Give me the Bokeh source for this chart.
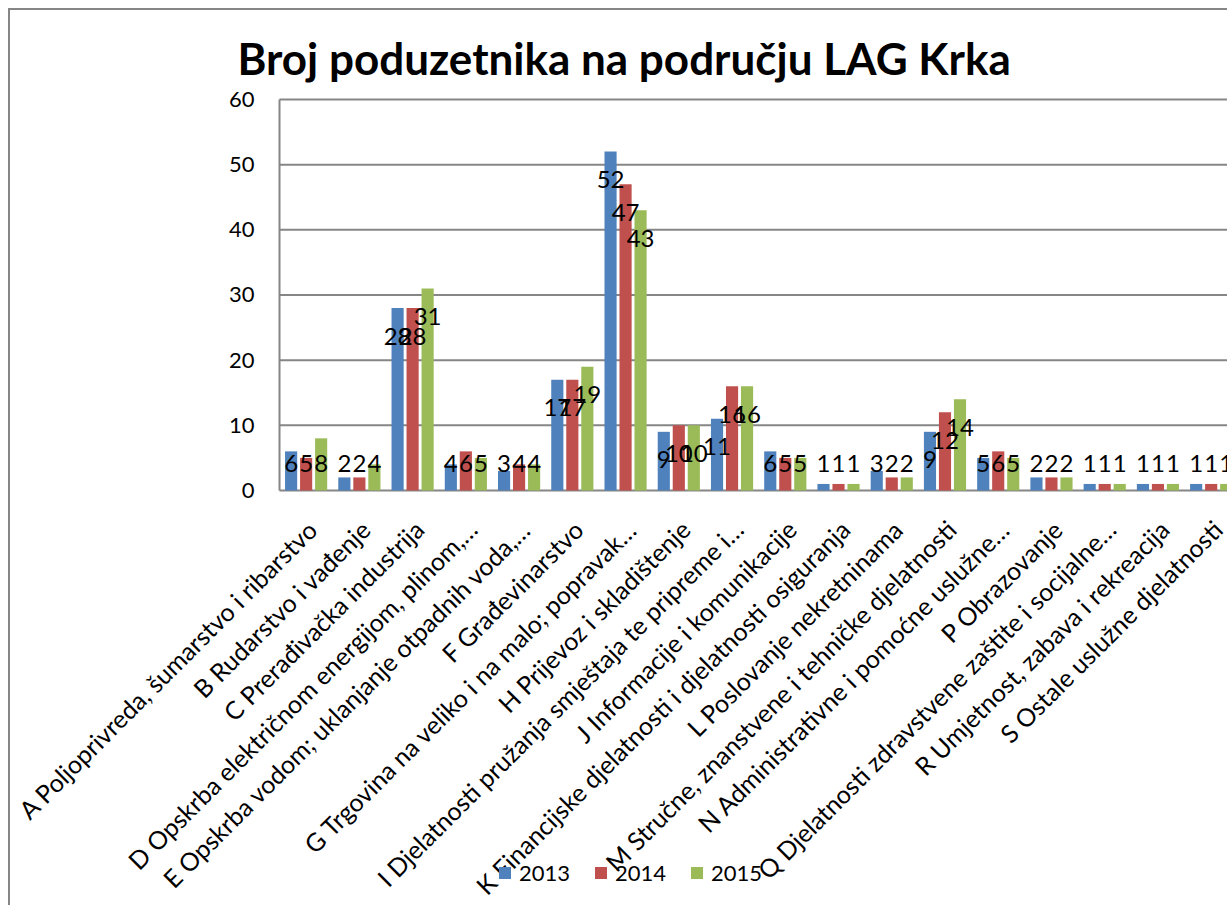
import numpy as np
from bokeh.plotting import figure
from bokeh.models import Range1d, Legend, LegendItem, ColumnDataSource
from bokeh.core.properties import value
from bokeh.embed import file_html
from bokeh.resources import INLINE

categories = [
    "A Poljoprivreda, šumarstvo i ribarstvo",
    "B Rudarstvo i vađenje",
    "C Prerađivačka industrija",
    "D Opskrba električnom energijom, plinom,…",
    "E Opskrba vodom; uklanjanje otpadnih voda,…",
    "F Građevinarstvo",
    "G Trgovina na veliko i na malo; popravak…",
    "H Prijevoz i skladištenje",
    "I Djelatnosti pružanja smještaja te pripreme i…",
    "J Informacije i komunikacije",
    "K Financijske djelatnosti i djelatnosti osiguranja",
    "L Poslovanje nekretninama",
    "M Stručne, znanstvene i tehničke djelatnosti",
    "N Administrativne i pomoćne uslužne…",
    "P Obrazovanje",
    "Q Djelatnosti zdravstvene zaštite i socijalne…",
    "R Umjetnost, zabava i rekreacija",
    "S Ostale uslužne djelatnosti",
]
years = ["2013", "2014", "2015"]
v2013 = [6, 2, 28, 4, 3, 17, 52, 9, 11, 6, 1, 3, 9, 5, 2, 1, 1, 1]
v2014 = [5, 2, 28, 6, 4, 17, 47, 10, 16, 5, 1, 2, 12, 6, 2, 1, 1, 1]
v2015 = [8, 4, 31, 5, 4, 19, 43, 10, 16, 5, 1, 2, 14, 5, 2, 1, 1, 1]
y_ticks = [0, 10, 20, 30, 40, 50, 60]

series = [v2013, v2014, v2015]
colors = ["#4F81BD", "#C0504D", "#9BBB59"]
offsets = [-0.282, 0.0, 0.282]
FONT = "Lato"
GRID = "#868686"

X_START, X_END = -5.553, 17.344     # category axis spans -0.5 .. n-0.5
Y_START, Y_END = -64.0, 61.38       # value axis 0 .. 60 sits inside
cat_left = -0.5

p = figure(width=1219, height=897, output_backend="svg", toolbar_location=None,
           x_axis_location=None, y_axis_location=None,
           x_range=Range1d(X_START, X_END), y_range=Range1d(Y_START, Y_END),
           min_border_left=0, min_border_right=0, min_border_top=80,
           min_border_bottom=0)
p.styles = {"margin-left": "8px", "margin-top": "8px",
            "border-left": "2px solid #868686", "border-top": "2px solid #868686"}
p.background_fill_color = "white"
p.border_fill_color = "white"
p.outline_line_color = None
p.grid.visible = False

p.title.text = "Broj poduzetnika na području LAG Krka"
p.title.text_font = FONT
p.title.text_font_style = "bold"
p.title.text_font_size = "44px"
p.title.text_color = "black"
p.title.align = "left"
p.title.offset = 227
p.title.standoff = 13

# value-axis grid lines, axis line and tick labels (from the tick list)
p.ray(x=[cat_left] * len(y_ticks), y=y_ticks, length=0, angle=0,
      line_color=GRID, line_width=2)
p.segment(x0=[cat_left], y0=[y_ticks[0]], x1=[cat_left], y1=[y_ticks[-1]],
          line_color=GRID, line_width=2)
p.text(x=[cat_left] * len(y_ticks), y=y_ticks, text=[str(t) for t in y_ticks],
       x_offset=-25, text_font=value(FONT), text_font_size="22px",
       text_align="right", text_baseline="middle", text_color="black")

idx = np.arange(len(categories))
renderers = []
for vals, col, off in zip(series, colors, offsets):
    src = ColumnDataSource(dict(x=idx + off, top=vals))
    r = p.vbar(x="x", top="top", width=0.228, bottom=0, source=src,
               fill_color=col, line_color=None)
    renderers.append(r)

# data labels
for vals, off in zip(series, offsets):
    src = ColumnDataSource(dict(x=idx + off,
                                ly=[max(v - 4.3, 4.1) for v in vals],
                                txt=[str(v) for v in vals]))
    p.text(x="x", y="ly", text="txt", source=src, text_font=value(FONT),
           text_font_size="24px", text_align="center", text_baseline="middle",
           text_color="black")

# category labels (rotated, below the zero line)
label_drop = -3.6
cat_src = ColumnDataSource(dict(x=idx - 0.08, y=[label_drop] * len(categories),
                                txt=categories))
p.text(x="x", y="y", text="txt", source=cat_src, angle=np.pi / 4,
       text_font=value(FONT), text_font_size="25px", text_align="right",
       text_baseline="top", text_color="black")

legend = Legend(items=[LegendItem(label=y, renderers=[r]) for y, r in zip(years, renderers)],
                orientation="horizontal", location=(487, 21),
                glyph_width=15, glyph_height=15, label_standoff=7, spacing=23,
                padding=0, margin=0, border_line_alpha=0, background_fill_alpha=0,
                label_text_font=FONT, label_text_font_size="22px",
                label_text_color="black")
p.add_layout(legend)

open("out.html", "w").write(file_html(p, INLINE))
